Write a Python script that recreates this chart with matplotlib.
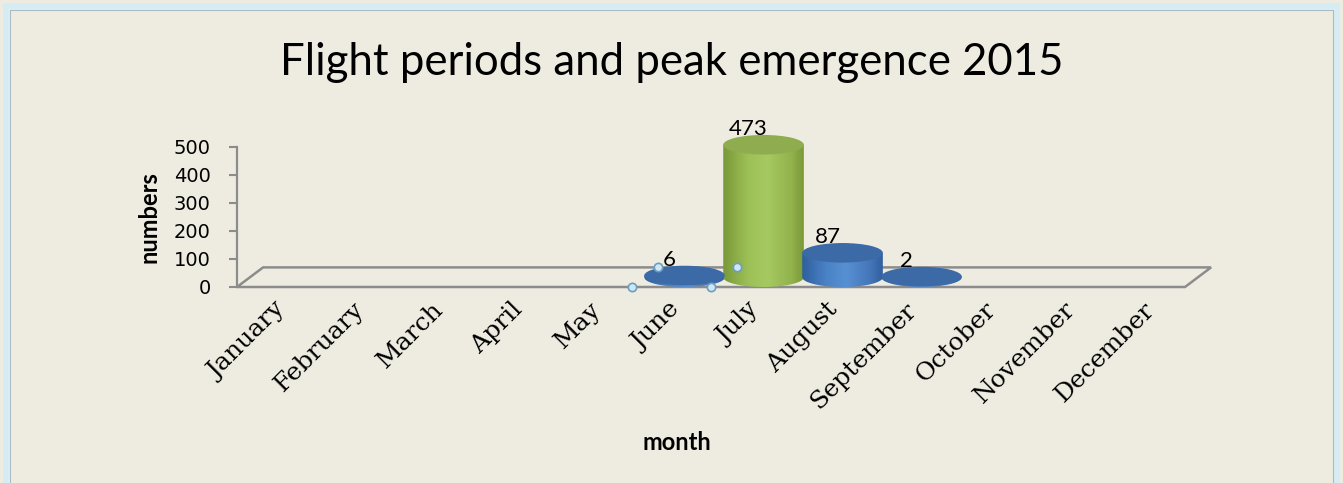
import matplotlib
matplotlib.use("Agg")
import matplotlib.pyplot as plt
import numpy as np
from matplotlib.patches import Polygon, Ellipse, Rectangle
from matplotlib.colors import LinearSegmentedColormap

# data
months = ["January", "February", "March", "April", "May", "June", "July",
          "August", "September", "October", "November", "December"]
counts = [0, 0, 0, 0, 0, 6, 473, 87, 2, 0, 0, 0]
peak_month = "July"
yticks = [0, 100, 200, 300, 400, 500]

bg = "#EEECE1"
grey = "#8c8c8c"

# fake 3d depth (in category / value units)
dx = 0.33
dy = 70.0
half_w = 0.51

blue_cm = LinearSegmentedColormap.from_list(
    "b", [(0, "#2f5f9e"), (0.3, "#4a82c6"), (0.55, "#5890d4"), (0.85, "#4475b8"), (1, "#2f5f9e")])
green_cm = LinearSegmentedColormap.from_list(
    "g", [(0, "#7a9838"), (0.3, "#9cbf56"), (0.55, "#a6c961"), (0.85, "#92b24c"), (1, "#7a9838")])


def cylinder(ax, xc, v, cmap, top_col):
    b = dy / 2
    y0 = dy / 2
    y1 = v + dy / 2
    xs = np.linspace(xc - half_w, xc + half_w, 121)
    s = np.sqrt(np.clip(1 - ((xs - xc) / half_w) ** 2, 0, 1))
    outline = [(xc - half_w, y1)] + list(zip(xs, y0 - b * s)) + [(xc + half_w, y1)]
    body = Polygon(outline, closed=True, facecolor="none", edgecolor="none",
                   transform=ax.transData)
    grad = cmap(np.linspace(0, 1, 256))[None, :, :]
    im = ax.imshow(grad, extent=[xc - half_w, xc + half_w, y0 - b, y1],
                   aspect="auto", interpolation="bilinear", zorder=3)
    im.set_clip_path(body)
    im.set_clip_box(ax.figure.bbox)
    ax.add_patch(Ellipse((xc, y1), 2 * half_w, 2 * b, facecolor=top_col,
                         edgecolor="none", clip_on=False, zorder=4))


fig = plt.figure(figsize=(13.43, 4.83), dpi=100)
fig.patch.set_facecolor(bg)

ax = fig.add_axes([237 / 1343, (483 - 287) / 483, 948 / 1343, 140 / 483])
ax.patch.set_visible(False)
for sp in ["top", "right", "bottom"]:
    ax.spines[sp].set_visible(False)
ax.spines["left"].set_color(grey)
ax.spines["left"].set_linewidth(1.6)

# floor
floor = Polygon([(0, 0), (dx, dy), (12 + dx, dy), (12, 0)], closed=True,
                facecolor="none", edgecolor=grey, lw=1.8, clip_on=False, zorder=1)
ax.add_patch(floor)

for i, (m, v) in enumerate(zip(months, counts)):
    if v <= 0:
        continue
    xc = i + 0.5 + dx / 2
    if m == peak_month:
        cylinder(ax, xc, v, green_cm, "#8fad4e")
    else:
        cylinder(ax, xc, v, blue_cm, "#3c6aa7")
    ax.text(xc - 0.19, v + dy / 2 + 56, str(v), ha="center", va="center",
            fontsize=16, family="Lato", color="black", zorder=6, clip_on=False)

# selection handles around the June point
j = months.index("June")
hx = [j, j + dx, j + 1, j + 1 + dx]
hy = [0, dy, 0, dy]
ax.plot(hx, hy, ls="none", marker="o", ms=6, mfc="#cfe6f5", mec="#6a9fc4",
        mew=1.2, clip_on=False, zorder=7)

ax.set_xlim(0, 12)
ax.set_ylim(0, 500)

ax.set_yticks(yticks)
ax.tick_params(axis="y", length=6, width=1.5, color=grey, pad=13, labelsize=14)
for lab in ax.get_yticklabels():
    lab.set_family("DejaVu Sans")

ax.set_xticks(np.arange(12) + 0.46)
ax.set_xticklabels(months, rotation=45, ha="right", rotation_mode="anchor",
                   family="DejaVu Serif", fontsize=18)
ax.tick_params(axis="x", length=0, pad=8)

ax.set_ylabel("numbers", family="Lato", fontweight="bold", fontsize=17)
ax.yaxis.set_label_coords((160 - 237) / 948, 0.5)
ax.set_xlabel("month", family="Lato", fontweight="bold", fontsize=17)
ax.xaxis.set_label_coords((677 - 237) / 948, (287 - 431) / 140)

fig.text(672 / 1343, 1 - 75 / 483, "Flight periods and peak emergence 2015",
         ha="center", va="baseline", family="Lato", fontsize=31.5)

# selected-chart frame
fig.add_artist(Rectangle((6 / 1343, -0.02), 1331 / 1343, 1 - 6 / 483 + 0.02,
                         transform=fig.transFigure, facecolor="none",
                         edgecolor="#d6ecf4", lw=4))
fig.add_artist(Rectangle((10 / 1343, -0.02), 1323 / 1343, 1 - 10 / 483 + 0.02,
                         transform=fig.transFigure, facecolor="none",
                         edgecolor="#a9bcc4", lw=0.8))

fig.savefig("out.png", dpi=100, facecolor=bg)
